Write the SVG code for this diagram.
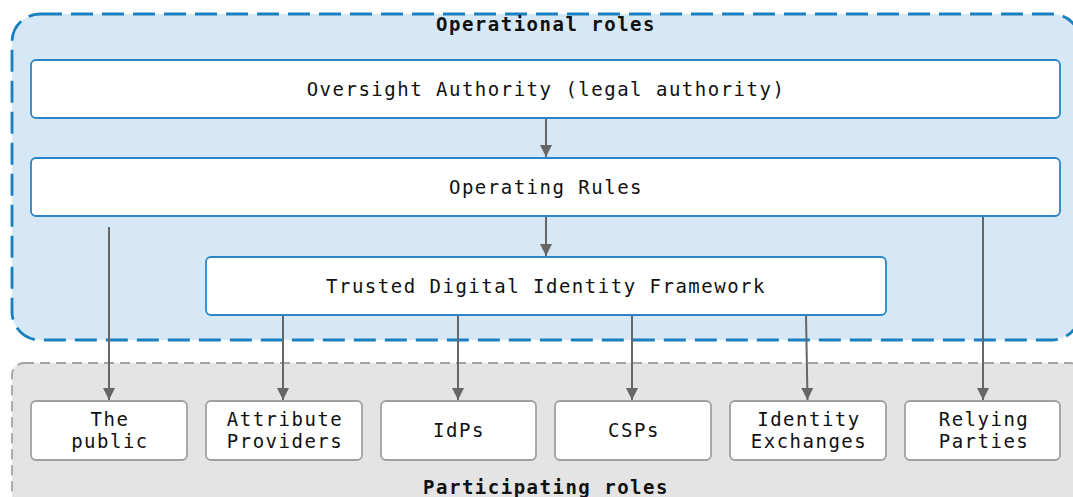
<svg xmlns="http://www.w3.org/2000/svg" width="1073" height="497" viewBox="0 0 1073 497">
  <defs>
    <marker id="arrow" viewBox="0 0 12 16" refX="12" refY="8" markerWidth="12" markerHeight="16" markerUnits="userSpaceOnUse" orient="auto">
      <path d="M0,2 L12,8 L0,14 z" fill="#666666"/>
    </marker>
    <style>
      .label { font-family: "DejaVu Sans Mono", "Liberation Mono", monospace; font-size: 19px; letter-spacing: 1.5px; fill: #111111; text-anchor: middle; }
      .title { font-weight: bold; }
      .cluster-op { fill: #d6e8f6; stroke: #1a7fc1; stroke-width: 2.8; stroke-dasharray: 22 9; }
      .cluster-part { fill: #e4e4e4; stroke: #a3a3a3; stroke-width: 1.8; stroke-dasharray: 10 6; }
      .op-node { fill: #ffffff; stroke: #2a86c7; stroke-width: 1.8; }
      .part-node { fill: #ffffff; stroke: #a0a0a0; stroke-width: 1.8; }
      .edge { stroke: #666666; stroke-width: 2; fill: none; marker-end: url(#arrow); }
    </style>
  </defs>

  <rect width="1073" height="497" fill="#ffffff"/>

  <!-- Clusters -->
  <g id="cluster-operational">
    <rect class="cluster-op" x="12" y="14" width="1068" height="326" rx="28" ry="28"/>
    <text class="label title" x="546" y="31">Operational roles</text>
  </g>
  <g id="cluster-participating">
    <rect class="cluster-part" x="12" y="363" width="1070" height="160" rx="12" ry="12"/>
    <text class="label title" x="546" y="494">Participating roles</text>
  </g>

  <!-- Connectors -->
  <g id="connectors">
    <line class="edge" x1="546" y1="118" x2="546" y2="157"/>
    <line class="edge" x1="546" y1="216" x2="546" y2="256"/>
    <line class="edge" x1="109" y1="227" x2="109" y2="400"/>
    <line class="edge" x1="983" y1="216" x2="983" y2="400"/>
    <line class="edge" x1="283" y1="315" x2="283" y2="400"/>
    <line class="edge" x1="458" y1="315" x2="458" y2="400"/>
    <line class="edge" x1="632" y1="315" x2="632" y2="400"/>
    <line class="edge" x1="806" y1="315" x2="807.5" y2="400"/>
  </g>

  <!-- Operational nodes -->
  <g id="oversight-authority">
    <rect class="op-node" x="31" y="60" width="1029" height="58" rx="5" ry="5"/>
    <text class="label" x="546" y="96">Oversight Authority (legal authority)</text>
  </g>
  <g id="operating-rules">
    <rect class="op-node" x="31" y="158" width="1029" height="58" rx="5" ry="5"/>
    <text class="label" x="546" y="194">Operating Rules</text>
  </g>
  <g id="tdif">
    <rect class="op-node" x="206" y="257" width="680" height="58" rx="5" ry="5"/>
    <text class="label" x="546" y="293">Trusted Digital Identity Framework</text>
  </g>

  <!-- Participating nodes -->
  <g id="the-public">
    <rect class="part-node" x="31" y="401" width="156" height="59" rx="5" ry="5"/>
    <text class="label" x="110" y="426">The</text>
    <text class="label" x="110" y="448">public</text>
  </g>
  <g id="attribute-providers">
    <rect class="part-node" x="206" y="401" width="156" height="59" rx="5" ry="5"/>
    <text class="label" x="285" y="426">Attribute</text>
    <text class="label" x="285" y="448">Providers</text>
  </g>
  <g id="idps">
    <rect class="part-node" x="381" y="401" width="155" height="59" rx="5" ry="5"/>
    <text class="label" x="459" y="437">IdPs</text>
  </g>
  <g id="csps">
    <rect class="part-node" x="555" y="401" width="156" height="59" rx="5" ry="5"/>
    <text class="label" x="634" y="437">CSPs</text>
  </g>
  <g id="identity-exchanges">
    <rect class="part-node" x="730" y="401" width="156" height="59" rx="5" ry="5"/>
    <text class="label" x="809" y="426">Identity</text>
    <text class="label" x="809" y="448">Exchanges</text>
  </g>
  <g id="relying-parties">
    <rect class="part-node" x="905" y="401" width="155" height="59" rx="5" ry="5"/>
    <text class="label" x="984" y="426">Relying</text>
    <text class="label" x="984" y="448">Parties</text>
  </g>
</svg>
